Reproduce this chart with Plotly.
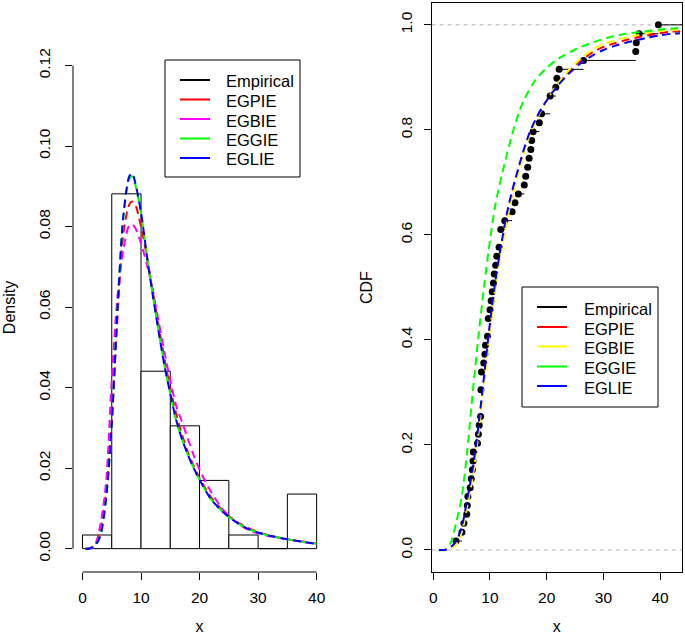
import plotly.graph_objects as go

# ---------------- Left panel data: histogram + fitted densities ----------------
bin_edges = [0, 5, 10, 15, 20, 25, 30, 35, 40]
bin_counts = [1, 26, 13, 9, 5, 1, 0, 4]
n_obs = 59

pdf_x = [0.5, 1, 2, 3, 4, 5, 6, 7, 8, 8.5, 9, 10, 11, 12, 13, 14, 15, 16, 17, 18, 19, 20,
         22, 24, 26, 28, 30, 32, 34, 36, 38, 40]
pdf_egpie = [0, 0, 0.0007, 0.0045, 0.0135, 0.032, 0.058, 0.0785, 0.0855, 0.0862, 0.0855, 0.080,
             0.0725, 0.064, 0.0555, 0.0472, 0.0398, 0.0335, 0.0283, 0.024, 0.0205, 0.0175,
             0.0127, 0.0094, 0.007, 0.0053, 0.0041, 0.0033, 0.0026, 0.0021, 0.0017, 0.0013]
pdf_egbie = [0, 0, 0.0003, 0.0055, 0.016, 0.042, 0.063, 0.0745, 0.0803, 0.0805, 0.0797, 0.0758,
             0.0706, 0.0643, 0.0565, 0.0488, 0.0418, 0.0355, 0.0315, 0.0273, 0.0232, 0.0196,
             0.014, 0.0097, 0.0069, 0.0049, 0.0038, 0.0031, 0.0026, 0.0021, 0.0016, 0.0011]
pdf_eggie = [0, 0, 0.0005, 0.003, 0.012, 0.031, 0.060, 0.0825, 0.0918, 0.0925, 0.0905, 0.0832,
             0.0728, 0.063, 0.054, 0.0455, 0.0385, 0.0318, 0.0272, 0.0233, 0.020, 0.0171,
             0.0122, 0.0091, 0.0068, 0.0051, 0.004, 0.0032, 0.0026, 0.0021, 0.0016, 0.0012]
pdf_eglie = [0, 0, 0.0005, 0.003, 0.012, 0.031, 0.060, 0.083, 0.0925, 0.0932, 0.091, 0.0835,
             0.0728, 0.063, 0.054, 0.0455, 0.0385, 0.032, 0.0272, 0.0233, 0.020, 0.0171,
             0.0122, 0.0091, 0.0068, 0.0051, 0.004, 0.0032, 0.0026, 0.0021, 0.0016, 0.0012]

left_xticks = [0, 10, 20, 30, 40]
left_yticks = [0.00, 0.02, 0.04, 0.06, 0.08, 0.10, 0.12]
left_yticklabels = ["0.00", "0.02", "0.04", "0.06", "0.08", "0.10", "0.12"]

# ---------------- Right panel data: ECDF + fitted CDFs ----------------
data_sorted = [4.0, 5.05, 5.4, 5.9, 6.0, 6.1, 6.5, 6.7, 6.9, 7.0, 7.05, 7.8, 7.95, 8.1, 8.35,
               8.4, 8.4, 8.4, 8.5, 8.5, 8.9, 9.1, 9.2, 9.55, 9.7, 9.7, 10.0, 10.2, 10.4, 10.6,
               10.75, 11.0, 11.2, 11.6, 11.9, 11.9, 12.6, 13.9, 14.4, 15.0, 16.05, 16.3, 16.65,
               16.9, 17.2, 17.35, 17.6, 18.7, 19.1, 20.6, 20.6, 21.6, 21.8, 22.2, 26.5, 35.7,
               35.8, 36.3, 39.7]

cdf_x = [1, 2, 3, 4, 5, 6, 7, 8, 9, 10, 11, 12, 13, 14, 15, 16, 17, 18, 19, 20, 22, 24, 26,
         28, 30, 32, 34, 36, 38, 40, 42, 43.5]
cdf_egpie = [0, 0.0, 0.004, 0.013, 0.038, 0.090, 0.150, 0.232, 0.328, 0.425, 0.508, 0.575,
             0.635, 0.682, 0.722, 0.760, 0.792, 0.817, 0.838, 0.856, 0.887, 0.912, 0.932,
             0.947, 0.958, 0.965, 0.971, 0.976, 0.980, 0.984, 0.987, 0.988]
cdf_egbie = [0, 0.0, 0.003, 0.010, 0.033, 0.083, 0.142, 0.224, 0.320, 0.417, 0.500, 0.567,
             0.628, 0.676, 0.717, 0.756, 0.789, 0.815, 0.837, 0.856, 0.889, 0.915, 0.936,
             0.952, 0.964, 0.970, 0.976, 0.980, 0.985, 0.988, 0.990, 0.991]
cdf_eglie = [0, 0.0, 0.005, 0.016, 0.043, 0.097, 0.158, 0.240, 0.336, 0.433, 0.516, 0.583,
             0.642, 0.688, 0.727, 0.764, 0.795, 0.819, 0.839, 0.856, 0.885, 0.908, 0.927,
             0.941, 0.952, 0.960, 0.966, 0.971, 0.976, 0.980, 0.983, 0.984]
cdf_x_gg = [1, 2, 3, 4, 5, 6, 7, 8, 9, 10, 11, 12, 13, 14, 15, 16, 18, 20, 22, 25, 28, 31, 34,
            37, 40, 43.5]
cdf_eggie = [0, 0.0, 0.012, 0.05, 0.10, 0.19, 0.305, 0.41, 0.505, 0.59, 0.66, 0.71, 0.754,
             0.795, 0.83, 0.857, 0.895, 0.918, 0.935, 0.953, 0.966, 0.976, 0.983, 0.987, 0.991,
             0.994]

right_xticks = [0, 10, 20, 30, 40]
right_yticks = [0.0, 0.2, 0.4, 0.6, 0.8, 1.0]
right_yticklabels = ["0.0", "0.2", "0.4", "0.6", "0.8", "1.0"]

legend_names = ["Empirical", "EGPIE", "EGBIE", "EGGIE", "EGLIE"]
left_colors = ["black", "#FF0000", "#FF00FF", "#00FF00", "#0000FF"]
right_colors = ["black", "#FF0000", "#FFFF00", "#00FF00", "#0000FF"]

# ---------------- Figure ----------------
W, H = 685, 635
FONT = "Liberation Sans, Arial, sans-serif"
DASH = "8px,5px"
xr_left = [-1.62, 41.6]
yr_left = [-0.0058, 0.1256]
xr_right = [-0.28, 43.86]
yr_right = [-0.042, 1.041]


def px(v):
    return v / W


def py(v):
    return 1 - v / H


fig = go.Figure()

# histogram bars
centers = [(bin_edges[i] + bin_edges[i + 1]) / 2 for i in range(len(bin_counts))]
widths = [bin_edges[i + 1] - bin_edges[i] for i in range(len(bin_counts))]
dens = [c / (n_obs * w) for c, w in zip(bin_counts, widths)]
fig.add_trace(go.Bar(x=centers, y=dens, width=widths, marker=dict(color="white",
                     line=dict(color="black", width=1)), showlegend=False,
                     xaxis="x", yaxis="y", hoverinfo="skip"))

for nm, ys, col in zip(legend_names[1:], [pdf_egpie, pdf_egbie, pdf_eggie, pdf_eglie],
                       left_colors[1:]):
    fig.add_trace(go.Scatter(x=pdf_x, y=ys, mode="lines", name=nm,
                             line=dict(color=col, width=2, dash=DASH, shape="spline",
                                       smoothing=0.8), showlegend=False, xaxis="x", yaxis="y"))

# ECDF
xs_u = sorted(set(data_sorted))
F_u = [sum(1 for v in data_sorted if v <= u) / len(data_sorted) for u in xs_u]
seg_x, seg_y = [], []
for k in range(len(xs_u)):
    x_end = xs_u[k + 1] if k + 1 < len(xs_u) else xr_right[1]
    seg_x += [xs_u[k], x_end, None]
    seg_y += [F_u[k], F_u[k], None]
fig.add_trace(go.Scatter(x=seg_x, y=seg_y, mode="lines", line=dict(color="black", width=1),
                         showlegend=False, xaxis="x2", yaxis="y2", name="Empirical"))
fig.add_trace(go.Scatter(x=xs_u, y=F_u, mode="markers", marker=dict(color="black", size=7),
                         showlegend=False, xaxis="x2", yaxis="y2", name="Empirical"))

for nm, xx, ys, col in zip(legend_names[1:], [cdf_x, cdf_x, cdf_x_gg, cdf_x],
                           [cdf_egpie, cdf_egbie, cdf_eggie, cdf_eglie], right_colors[1:]):
    fig.add_trace(go.Scatter(x=xx, y=ys, mode="lines", name=nm,
                             line=dict(color=col, width=2, dash=DASH, shape="spline",
                                       smoothing=0.8), showlegend=False, xaxis="x2", yaxis="y2"))

axis_common = dict(showgrid=False, zeroline=False, ticks="outside", ticklen=7, tickwidth=1,
                   tickcolor="black", tickfont=dict(family=FONT, size=15.5, color="black"),
                   automargin=False, linecolor="black", linewidth=1)

shapes = [
    # R-style axis lines spanning the tick range (left panel)
    dict(type="line", xref="x", yref="y domain", x0=left_xticks[0], x1=left_xticks[-1],
         y0=0, y1=0, line=dict(color="black", width=1)),
    dict(type="line", xref="x domain", yref="y", x0=0, x1=0, y0=left_yticks[0],
         y1=left_yticks[-1], line=dict(color="black", width=1)),
    # reference lines at 0 and 1 (right panel)
    dict(type="line", xref="x2 domain", yref="y2", x0=0, x1=1, y0=right_yticks[0],
         y1=right_yticks[0], line=dict(color="#B3B3B3", width=1, dash="4px,4px"), layer="below"),
    dict(type="line", xref="x2 domain", yref="y2", x0=0, x1=1, y0=right_yticks[-1],
         y1=right_yticks[-1], line=dict(color="#B3B3B3", width=1, dash="4px,4px"), layer="below"),
]
annotations = []

# R-style legend boxes (drawn manually to match R's compact row spacing)
legend_specs = [
    dict(box=(165, 60, 300, 177), line_x=(180, 210), text_x=224,
         rows=[80, 99.5, 119, 138.5, 158], colors=left_colors),
    dict(box=(522, 287, 658, 407), line_x=(537, 567), text_x=582,
         rows=[307, 327, 346.5, 366.5, 386], colors=right_colors),
]
for spec in legend_specs:
    x0, y0, x1, y1 = spec["box"]
    shapes.append(dict(type="rect", xref="paper", yref="paper", x0=px(x0), x1=px(x1),
                       y0=py(y1), y1=py(y0), line=dict(color="black", width=1),
                       fillcolor="white", layer="above"))
    for name, col, ry in zip(legend_names, spec["colors"], spec["rows"]):
        shapes.append(dict(type="line", xref="paper", yref="paper", x0=px(spec["line_x"][0]),
                           x1=px(spec["line_x"][1]), y0=py(ry), y1=py(ry),
                           line=dict(color=col, width=2), layer="above"))
        annotations.append(dict(text=name, xref="paper", yref="paper", x=px(spec["text_x"]),
                                y=py(ry + 1.5), xanchor="left", yanchor="middle",
                                showarrow=False, font=dict(family=FONT, size=16.5,
                                                           color="black")))

fig.update_layout(
    template="none",
    width=W, height=H,
    margin=dict(l=0, r=0, t=0, b=0),
    paper_bgcolor="white", plot_bgcolor="white",
    font=dict(family=FONT, size=16, color="black"),
    bargap=0,
    showlegend=False,
    hovermode=False,
    xaxis=dict(domain=[px(73), px(326)], range=xr_left, tickvals=left_xticks, showline=False,
               anchor="y", ticklabelstandoff=4,
               title=dict(text="x", standoff=17, font=dict(size=16)), **axis_common),
    yaxis=dict(domain=[py(572), py(43)], range=yr_left, tickvals=left_yticks,
               ticktext=left_yticklabels, tickangle=-90, showline=False, anchor="x",
               ticklabelstandoff=9,
               title=dict(text="Density", standoff=16, font=dict(size=16)), **axis_common),
    xaxis2=dict(domain=[px(431.7), px(682)], range=xr_right, tickvals=right_xticks,
                showline=True, mirror=True, anchor="y2", ticklabelstandoff=4,
                title=dict(text="x", standoff=17, font=dict(size=16)), **axis_common),
    yaxis2=dict(domain=[py(572), py(3.3)], range=yr_right, tickvals=right_yticks,
                ticktext=right_yticklabels, tickangle=-90, showline=True, mirror=True,
                anchor="x2", ticklabelstandoff=6,
                title=dict(text="CDF", standoff=20, font=dict(size=16)), **axis_common),
    shapes=shapes,
    annotations=annotations,
)

fig.write_html("out.html", config={"displayModeBar": False, "staticPlot": True},
               post_script="document.body.style.margin='0px';")
